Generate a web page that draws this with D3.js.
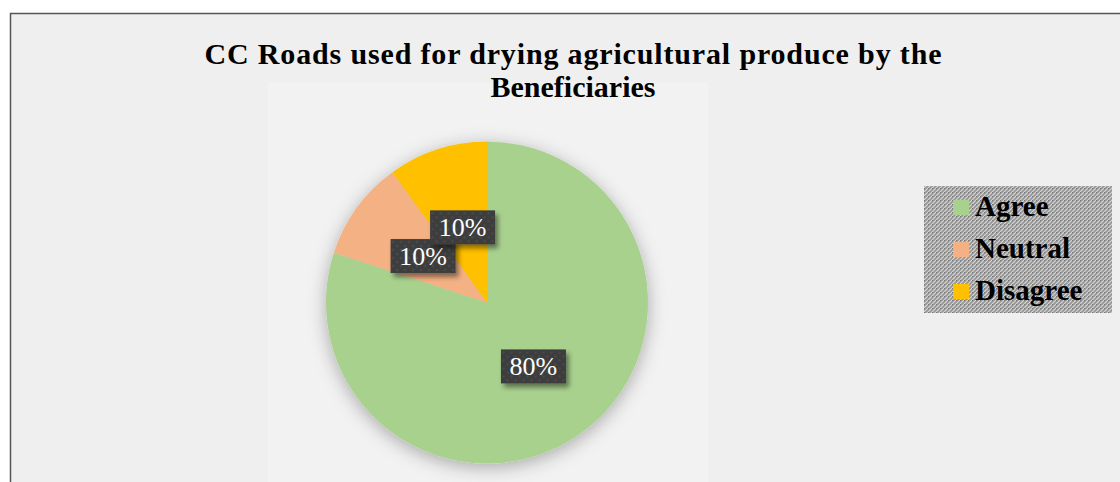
<!DOCTYPE html>
<html>
<head>
<meta charset="utf-8">
<script src="https://cdn.jsdelivr.net/npm/d3@7/dist/d3.min.js"></script>
<style>
  html, body { margin: 0; padding: 0; background: #ffffff; }
  svg { display: block; }
</style>
</head>
<body>
<script>
// Survey responses
const categories = ["Agree", "Neutral", "Disagree"];
const values = [80, 10, 10];
const colors = ["#a9d18e", "#f4b183", "#ffc000"];
const titleLines = ["CC Roads used for drying agricultural produce by the", "Beneficiaries"];

const W = 1120, H = 482;
const svg = d3.select("body").append("svg").attr("width", W).attr("height", H);
const defs = svg.append("defs");

// Soft shadow under the pie
const pieShadow = defs.append("filter").attr("id", "pieShadow")
  .attr("x", "-30%").attr("y", "-30%").attr("width", "160%").attr("height", "160%");
pieShadow.append("feDropShadow").attr("dx", 0).attr("dy", 4)
  .attr("stdDeviation", 9).attr("flood-color", "#000").attr("flood-opacity", 0.3);

// Shadow for the data label boxes
const boxShadow = defs.append("filter").attr("id", "boxShadow")
  .attr("x", "-30%").attr("y", "-30%").attr("width", "170%").attr("height", "180%");
boxShadow.append("feDropShadow").attr("dx", 3).attr("dy", 4)
  .attr("stdDeviation", 2.5).attr("flood-color", "#000").attr("flood-opacity", 0.45);

// Dotted dark fill for label boxes
const dots = defs.append("pattern").attr("id", "dots")
  .attr("width", 8).attr("height", 8).attr("patternUnits", "userSpaceOnUse");
dots.append("rect").attr("width", 8).attr("height", 8).attr("fill", "#3d3d3d");
dots.append("circle").attr("cx", 2).attr("cy", 2).attr("r", 1.3).attr("fill", "#4a4a4a");
dots.append("circle").attr("cx", 6).attr("cy", 6).attr("r", 1.3).attr("fill", "#4a4a4a");

// Woven grey texture for the legend
const weave = defs.append("pattern").attr("id", "weave")
  .attr("width", 4).attr("height", 4).attr("patternUnits", "userSpaceOnUse");
weave.append("rect").attr("width", 4).attr("height", 4).attr("fill", "#959595");
weave.append("path").attr("d", "M0,4 L4,0 M-1,1 L1,-1 M3,5 L5,3")
  .attr("stroke", "#d8d8d8").attr("stroke-width", 1.1);
weave.append("rect").attr("x", 0).attr("y", 0).attr("width", 1).attr("height", 1).attr("fill", "#777");

// Chart frame
svg.append("rect").attr("x", 10.5).attr("y", 13.5).attr("width", W + 20).attr("height", H + 20)
  .attr("fill", "#efefef").attr("stroke", "#555").attr("stroke-width", 1.5);

// Plot area
svg.append("rect").attr("x", 268).attr("y", 82).attr("width", 440).attr("height", 420)
  .attr("fill", "#f2f2f2");

// Title
const serif = "'Liberation Serif', 'Times New Roman', serif";
svg.append("g").selectAll("text").data(titleLines).join("text")
  .attr("x", 573).attr("y", (d, i) => 64 + i * 33)
  .attr("text-anchor", "middle")
  .attr("font-family", serif)
  .attr("font-weight", "bold").attr("font-size", 30).attr("fill", "#000")
  .attr("textLength", (d, i) => i === 0 ? 737 : null)
  .attr("lengthAdjust", "spacing")
  .text(d => d);

// Pie
const cx = 487, cy = 302.5, R = 161;
const pie = d3.pie().sort(null).value(d => d)(values);
const arc = d3.arc().innerRadius(0).outerRadius(R);
const labelArc = d3.arc().innerRadius(79).outerRadius(79);

const g = svg.append("g").attr("transform", `translate(${cx},${cy})`);
g.append("g").attr("filter", "url(#pieShadow)")
  .selectAll("path").data(pie).join("path")
  .attr("d", arc).attr("fill", (d, i) => colors[i]);

// Data labels: Agree first, then Neutral, then Disagree on top
const total = d3.sum(values);
const fmt = v => Math.round(v / total * 100) + "%";
const lbl = g.append("g").selectAll("g").data(pie).join("g")
  .attr("transform", d => { const [x, y] = labelArc.centroid(d); return `translate(${x},${y})`; });
lbl.append("rect").attr("x", -32.5).attr("y", -17).attr("width", 65).attr("height", 34)
  .attr("fill", "url(#dots)").attr("filter", "url(#boxShadow)");
lbl.append("text").attr("text-anchor", "middle").attr("y", 9)
  .attr("font-family", serif)
  .attr("font-size", 26).attr("fill", "#fff")
  .text(d => fmt(d.data));

// Legend
const lg = svg.append("g");
lg.append("rect").attr("x", 924).attr("y", 186).attr("width", 188).attr("height", 127)
  .attr("fill", "url(#weave)");
const items = lg.selectAll("g").data(categories).join("g")
  .attr("transform", (d, i) => `translate(953,${200 + i * 42})`);
items.append("rect").attr("width", 16).attr("height", 15).attr("fill", (d, i) => colors[i]);
items.append("text").attr("x", 22).attr("y", 16)
  .attr("font-family", serif)
  .attr("font-weight", "bold").attr("font-size", 29).attr("fill", "#000")
  .text(d => d);
</script>
</body>
</html>
